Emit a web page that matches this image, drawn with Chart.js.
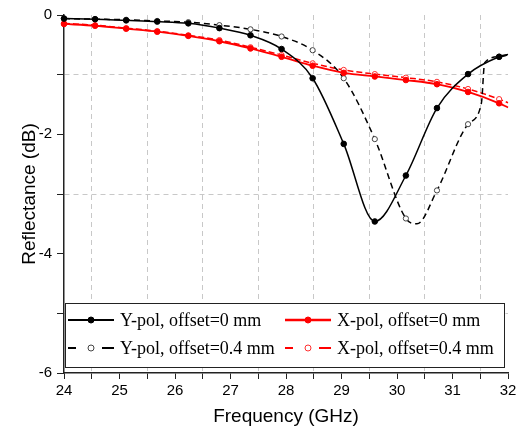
<!DOCTYPE html>
<html>
<head>
<meta charset="utf-8">
<script src="https://cdn.jsdelivr.net/npm/chart.js@4.4.0/dist/chart.umd.min.js"></script>
<style>
  html, body { margin: 0; padding: 0; background: #fff; }
</style>
</head>
<body>
<canvas id="chart" width="521" height="435"></canvas>
<script>
// frequencies where the curves carry a marker (GHz)
const markerFreqs = [24, 24.56, 25.12, 25.68, 26.24, 26.8, 27.36, 27.92, 28.48, 29.04, 29.6, 30.16, 30.72, 31.28, 31.84];

// Y-pol, offset = 0 mm
const yPol0Freq = [24, 24.56, 25.12, 25.68, 26.24, 26.8, 27.36, 27.92, 28.48, 29.04, 29.6, 30.16, 30.72, 31.28, 31.84, 32];
const yPol0Db   = [-0.06, -0.07, -0.09, -0.11, -0.14, -0.22, -0.34, -0.57, -1.06, -2.16, -3.46, -2.69, -1.56, -0.99, -0.70, -0.66];

// Y-pol, offset = 0.4 mm
const yPol04Freq = [24, 24.56, 25.12, 25.68, 26.24, 26.8, 27.36, 27.92, 28.48, 29.04, 29.6, 30.16, 30.36, 30.72, 31.28, 31.52, 31.58, 31.84, 32];
const yPol04Db   = [-0.06, -0.07, -0.08, -0.10, -0.12, -0.17, -0.24, -0.36, -0.59, -1.06, -2.08, -3.41, -3.50, -2.94, -1.83, -1.48, -0.80, -0.70, -0.67];

// X-pol, offset = 0 mm
const xPol0Freq = [24, 24.56, 25.12, 25.68, 26.24, 26.8, 27.36, 27.92, 28.48, 29.04, 29.6, 30.16, 30.72, 31.28, 31.84, 32];
const xPol0Db   = [-0.15, -0.18, -0.23, -0.28, -0.35, -0.44, -0.56, -0.70, -0.85, -0.97, -1.03, -1.09, -1.16, -1.29, -1.48, -1.55];

// X-pol, offset = 0.4 mm
const xPol04Freq = [24, 24.56, 25.12, 25.68, 26.24, 26.8, 27.36, 27.92, 28.48, 29.04, 29.6, 30.16, 30.72, 31.28, 31.84, 32];
const xPol04Db   = [-0.14, -0.17, -0.22, -0.27, -0.34, -0.42, -0.54, -0.67, -0.81, -0.92, -0.99, -1.05, -1.12, -1.24, -1.41, -1.47];

const seriesLabels = ['Y-pol, offset=0 mm', 'X-pol, offset=0 mm', 'Y-pol, offset=0.4 mm', 'X-pol, offset=0.4 mm'];
const xTickLabels = [24, 25, 26, 27, 28, 29, 30, 31, 32];
const yTickLabels = [0, -2, -4, -6];

const toPoints = (freqs, vals) => freqs.map((f, i) => ({ x: f, y: vals[i] }));
const markerRadius = r => c => (c.raw && markerFreqs.includes(c.raw.x)) ? r : 0;

const sans = '"Liberation Sans", Arial, sans-serif';
const serif = '"Liberation Serif", "Times New Roman", serif';

// legend drawn inside the plot, two columns like the original figure
const boxLegend = {
  id: 'boxLegend',
  afterDraw(chart) {
    const { ctx, chartArea } = chart;
    const left = chartArea.left + 1.5, right = chartArea.right - 3.5;
    const top = chartArea.bottom - 69.5, bottom = chartArea.bottom - 5.5;
    ctx.save();
    ctx.fillStyle = '#fff';
    ctx.fillRect(left, top, right - left, bottom - top);
    ctx.strokeStyle = '#222';
    ctx.lineWidth = 1;
    ctx.strokeRect(left, top, right - left, bottom - top);

    const cols = [chartArea.left + 4, chartArea.left + 221];
    const rows = [top + 16.5, top + 44.5];
    chart.data.datasets.forEach((ds, i) => {
      const x0 = cols[i % 2], y = rows[Math.floor(i / 2)];
      const x1 = x0 + 46, mid = x0 + 23;
      ctx.strokeStyle = ds.borderColor;
      ctx.lineWidth = ds.borderWidth + 0.5;
      ctx.setLineDash([]);
      ctx.beginPath();
      if (ds.borderDash && ds.borderDash.length) {
        ctx.moveTo(x0, y); ctx.lineTo(x0 + 8, y);
        ctx.moveTo(x1 - 12, y); ctx.lineTo(x1, y);
      } else {
        ctx.moveTo(x0, y); ctx.lineTo(x1, y);
      }
      ctx.stroke();
      ctx.beginPath();
      ctx.arc(mid, y, 3, 0, Math.PI * 2);
      ctx.fillStyle = ds.pointBackgroundColor;
      ctx.fill();
      ctx.lineWidth = 1;
      ctx.strokeStyle = ds.pointBorderColor;
      ctx.stroke();

      ctx.fillStyle = '#000';
      ctx.font = '18px ' + serif;
      ctx.textBaseline = 'middle';
      ctx.textAlign = 'left';
      ctx.fillText(ds.label, x1 + 6, y + 1);
    });
    ctx.restore();
  }
};

new Chart(document.getElementById('chart'), {
  type: 'line',
  data: {
    datasets: [
      {
        label: seriesLabels[0],
        data: toPoints(yPol0Freq, yPol0Db),
        borderColor: '#000', borderWidth: 1.5,
        pointBackgroundColor: '#000', pointBorderColor: '#000',
        pointRadius: markerRadius(2.8), pointBorderWidth: 1
      },
      {
        label: seriesLabels[1],
        data: toPoints(xPol0Freq, xPol0Db),
        borderColor: '#ff0000', borderWidth: 1.8,
        pointBackgroundColor: '#ff0000', pointBorderColor: '#ff0000',
        pointRadius: markerRadius(2.8), pointBorderWidth: 1
      },
      {
        label: seriesLabels[2],
        data: toPoints(yPol04Freq, yPol04Db),
        borderColor: '#000', borderWidth: 1.5, borderDash: [6, 4],
        pointBackgroundColor: '#fff', pointBorderColor: '#444',
        pointRadius: markerRadius(2.6), pointBorderWidth: 1
      },
      {
        label: seriesLabels[3],
        data: toPoints(xPol04Freq, xPol04Db),
        borderColor: '#ff0000', borderWidth: 1.5, borderDash: [6, 3],
        pointBackgroundColor: '#fff', pointBorderColor: '#ff3030',
        pointRadius: markerRadius(2.6), pointBorderWidth: 1
      }
    ]
  },
  options: {
    responsive: false,
    animation: false,
    devicePixelRatio: 1,
    layout: { padding: { top: 15, right: 13, left: 0, bottom: 0 } },
    elements: { line: { cubicInterpolationMode: 'monotone' } },
    datasets: { line: { clip: false } },
    plugins: { legend: { display: false }, tooltip: { enabled: false } },
    events: [],
    scales: {
      x: {
        type: 'linear',
        min: 24, max: 32,
        afterFit: s => { s.height = 62; },
        ticks: {
          stepSize: 0.5,
          autoSkip: false,
          maxRotation: 0,
          padding: 3,
          color: '#000',
          font: { family: sans, size: 15 },
          callback: v => xTickLabels.includes(v) ? String(v) : ''
        },
        grid: {
          color: c => (c.tick && !Number.isInteger(c.tick.value)) ? '#c8c8c8' : 'rgba(0,0,0,0)',
          tickColor: '#222',
          tickLength: 6,
          lineWidth: 1
        },
        border: { display: true, color: '#222', width: 1.5, dash: [5, 4] },
        title: {
          display: true,
          text: 'Frequency (GHz)',
          color: '#000',
          font: { family: sans, size: 19 },
          padding: { top: 0, bottom: 7 }
        }
      },
      y: {
        min: -6, max: 0,
        afterFit: s => { s.width = 64; },
        ticks: {
          stepSize: 1,
          autoSkip: false,
          padding: 5,
          color: '#000',
          font: { family: sans, size: 15 },
          callback: v => yTickLabels.includes(v) ? String(v) : ''
        },
        grid: {
          color: c => (c.tick && Math.abs(c.tick.value) % 2 === 1) ? '#c8c8c8' : 'rgba(0,0,0,0)',
          tickColor: '#222',
          tickLength: 7,
          lineWidth: 1
        },
        border: { display: true, color: '#222', width: 1.5, dash: [5, 4] },
        title: {
          display: true,
          text: 'Reflectance (dB)',
          color: '#000',
          font: { family: sans, size: 19 },
          padding: { top: 18, bottom: 0 }
        }
      }
    }
  },
  plugins: [boxLegend]
});
</script>
</body>
</html>
